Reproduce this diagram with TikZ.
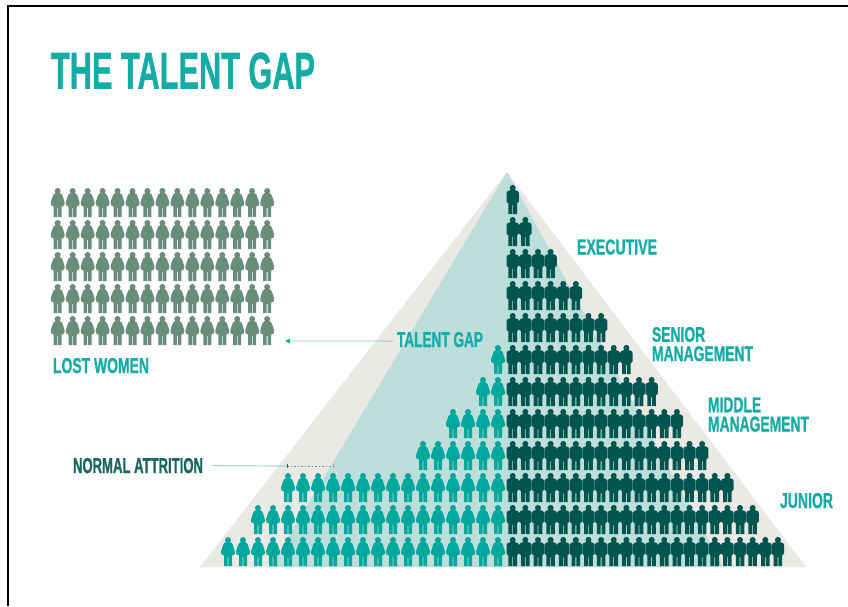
\documentclass[tikz,border=0pt]{standalone}
\usepackage{fontspec}
\usepackage{graphicx}
\setmainfont{Liberation Sans}[BoldFont={Liberation Sans Bold},BoldFeatures={FakeBold=1.2}]
\usetikzlibrary{arrows.meta}
\definecolor{tealtext}{HTML}{14ACA4}
\definecolor{tealfig}{HTML}{00A79D}
\definecolor{darkfig}{HTML}{00564F}
\definecolor{greyfig}{HTML}{6A8C7D}
\definecolor{lightteal}{HTML}{BEDEDB}
\definecolor{lightgrey}{HTML}{EBE9E5}
\definecolor{darktext}{HTML}{1A6660}
\definecolor{lineteal}{HTML}{8CCFCB}
\newcommand{\fitbox}[3]{\resizebox{#1pt}{#2pt}{\bfseries #3}}
\newcommand{\twolines}[2]{\vbox{\offinterlineskip\hbox{#1}\kern2pt\hbox{#2}}}
\tikzset{
  lbl/.style={inner sep=0pt,outer sep=0pt,anchor=north west,text=tealtext},
  manshape/.pic={
    \fill (0,2.9) circle [radius=3pt];
    \fill (-2.5,5.2) -- (2.5,5.2) .. controls (4.5,5.4) and (6.1,6.2) .. (6.2,8) -- (6.2,16.5) -- (4.3,18.5) -- (4.3,29) -- (0.4,29) -- (0.4,20) -- (-0.4,20) -- (-0.4,29) -- (-4.3,29) -- (-4.3,18.5) -- (-6.2,16.5) -- (-6.2,8) .. controls (-6.1,6.2) and (-4.5,5.4) .. cycle;
  },
  womanshape/.pic={
    \fill (0,3) circle [radius=3pt];
    \fill (-2.2,5.2) -- (2.2,5.2) .. controls (4,5.6) and (4.8,7) .. (5.2,9) .. controls (5.6,11) and (6.8,12.5) .. (6.9,14.5) -- (6.7,17.2) -- (4,18.6) -- (4,29) -- (0.4,29) -- (0.4,20) -- (-0.4,20) -- (-0.4,29) -- (-4,29) -- (-4,18.6) -- (-6.7,17.2) -- (-6.9,14.5) .. controls (-6.8,12.5) and (-5.6,11) .. (-5.2,9) .. controls (-4.8,7) and (-4,5.6) .. cycle;
  }
}
\begin{document}
\begin{tikzpicture}[x=1pt,y=-1pt]
\useasboundingbox (0,0) rectangle (848,606);
\fill[white] (0,0) rectangle (848,606);
% frame
\draw[black,line width=1.6pt] (8.2,606) -- (8.2,6.2) -- (848,6.2);
% pyramid
\fill[lightgrey] (507,172) -- (806,567) -- (200,567) -- cycle;
\fill[lightteal] (507,172) -- (723,567) -- (270,567) -- cycle;
% lost women
\foreach \r in {0,...,4}\foreach \i in {0,...,14}
  \pic[greyfig] at (57.7+14.96*\i,188+32*\r) {womanshape};
% normal attrition / female staff
\foreach \r/\n in {5/0,6/1,7/3,8/5,9/14,10/16,11/18}\foreach \i in {0,...,\n}
  \pic[tealfig] at (498-15*\i,185+32*\r) {womanshape};
% male staff
\foreach \r/\n in {0/0,1/1,2/3,3/5,4/7,5/9,6/11,7/13,8/15,9/17,10/19,11/21}\foreach \i in {0,...,\n}
  \pic[darkfig] at (512.7+12.63*\i,185+32*\r) {manshape};
% labels
\node[lbl] (title) at (51,52.5) {\fitbox{264}{36}{THE TALENT GAP}};
\node[lbl] (lost) at (53,358) {\fitbox{96}{15}{LOST WOMEN}};
\node[lbl] (gap) at (397,332) {\fitbox{86}{15}{TALENT GAP}};
\node[lbl] (exec) at (577,239.5) {\fitbox{80}{15}{EXECUTIVE}};
\node[lbl] (senior) at (652,327) {\fitbox{101}{34}{\twolines{SENIOR}{MANAGEMENT}}};
\node[lbl] (middle) at (708,397.5) {\fitbox{101}{34}{\twolines{MIDDLE}{MANAGEMENT}}};
\node[lbl] (junior) at (780,493) {\fitbox{53}{15}{JUNIOR}};
\node[lbl,text=darktext] (normal) at (73,458) {\fitbox{130}{15}{NORMAL ATTRITION}};
% connectors
\coordinate (lostend) at (286,341);
\coordinate (attrA) at (287,466);
\coordinate (attrB) at (333,466);
\draw[lineteal,line width=0.8pt] ([xshift=-4pt,yshift=-1.5pt]gap.west) -- (lostend);
\fill[tealtext] (lostend) ++(-1,0) -- ++(5,-2.4) -- ++(0,4.8) -- cycle;
\draw[lineteal!80!darktext,line width=0.7pt] ([xshift=9pt]normal.east) -- (attrA);
\draw[darktext!70,line width=0.7pt,dash pattern=on 1.5pt off 2pt] (attrA) -- (attrB);
\draw[darktext,line width=1pt] (287,463.8) -- (287,468.2);
\draw[darktext!55,line width=1pt] (333,463.8) -- (333,468.2);
\end{tikzpicture}
\end{document}
